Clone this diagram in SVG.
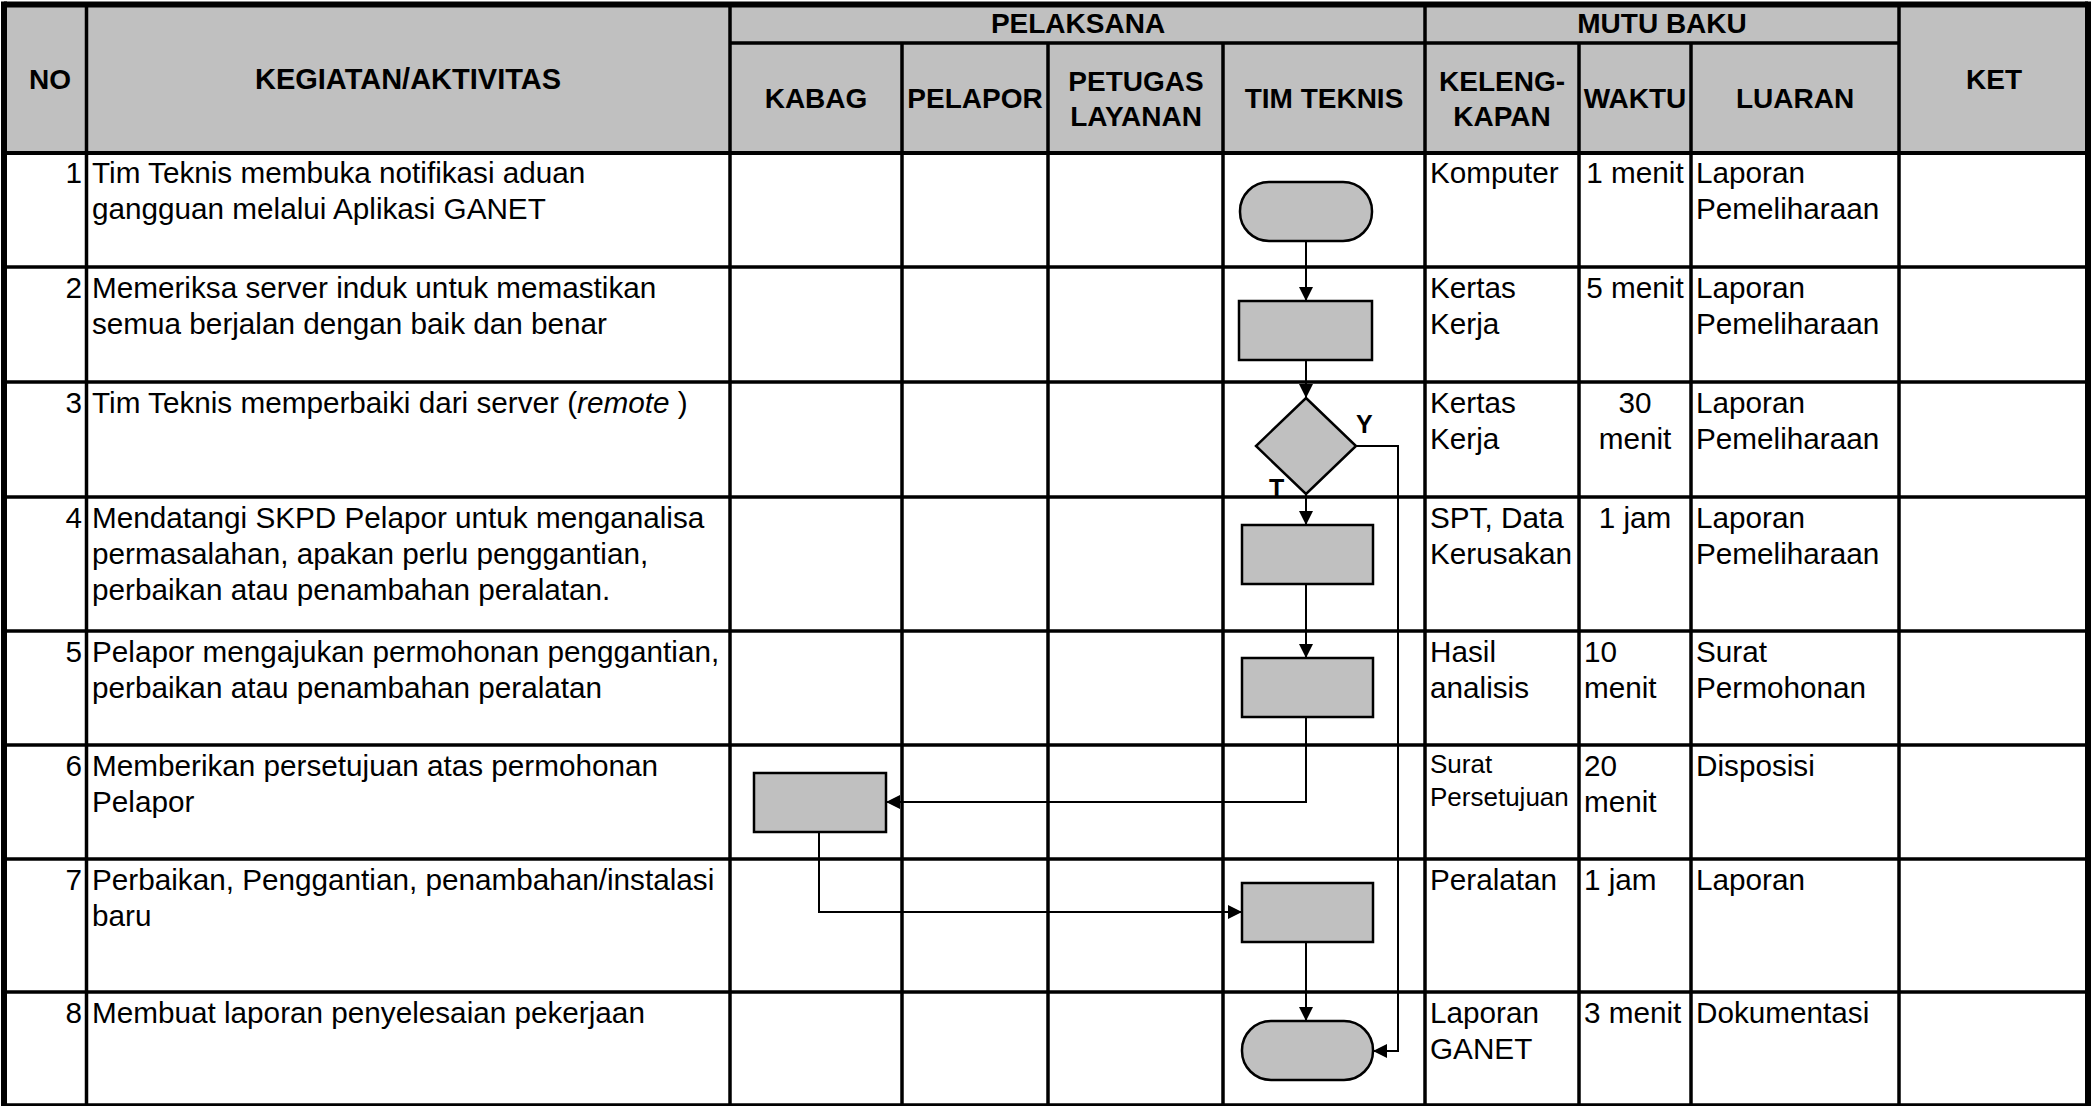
<svg xmlns="http://www.w3.org/2000/svg" width="2096" height="1106" viewBox="0 0 2096 1106">
<style>
.bg{fill:#ffffff}
.hd{fill:#c0c0c0}
.g{stroke:#000;stroke-width:3.5;fill:none}
.ob{stroke:#000;stroke-width:6;fill:none}
.h{font-family:"Liberation Sans",Arial,sans-serif;font-weight:bold;font-size:28px;fill:#000;text-anchor:middle}
.t{font-family:"Liberation Sans",Arial,sans-serif;font-size:29.7px;fill:#000}
.sm{font-size:26px}
.m{text-anchor:middle}
.e{text-anchor:end}
.lb{font-family:"Liberation Sans",Arial,sans-serif;font-weight:bold;font-size:25px;fill:#000}
.s{fill:#c0c0c0;stroke:#000;stroke-width:2.5}
.c{stroke:#000;stroke-width:2;fill:none;marker-end:url(#ah)}
</style>
<defs>
<marker id="ah" viewBox="0 0 10 10" refX="10" refY="5" markerWidth="15" markerHeight="14" markerUnits="userSpaceOnUse" orient="auto">
<path d="M0,0 L10,5 L0,10 z" fill="#000"/>
</marker>
</defs>
<rect class="bg" x="0" y="0" width="2096" height="1106"/>
<rect class="hd" x="4" y="4" width="2084" height="149"/>

<g id="grid">
<line class="g" x1="4" y1="153" x2="2088" y2="153" style="stroke-width:4"/>
<line class="g" x1="4" y1="267" x2="2088" y2="267"/>
<line class="g" x1="4" y1="382" x2="2088" y2="382"/>
<line class="g" x1="4" y1="497" x2="2088" y2="497"/>
<line class="g" x1="4" y1="631" x2="2088" y2="631"/>
<line class="g" x1="4" y1="745" x2="2088" y2="745"/>
<line class="g" x1="4" y1="859" x2="2088" y2="859"/>
<line class="g" x1="4" y1="992" x2="2088" y2="992"/>
<line class="g" x1="4" y1="1105" x2="2088" y2="1105"/>
<line class="g" x1="730" y1="43" x2="1899" y2="43"/>
<line class="g" x1="86.5" y1="4" x2="86.5" y2="1106"/>
<line class="g" x1="730" y1="4" x2="730" y2="1106"/>
<line class="g" x1="902" y1="43" x2="902" y2="1106"/>
<line class="g" x1="1048" y1="43" x2="1048" y2="1106"/>
<line class="g" x1="1223" y1="43" x2="1223" y2="1106"/>
<line class="g" x1="1425" y1="4" x2="1425" y2="1106"/>
<line class="g" x1="1579" y1="43" x2="1579" y2="1106"/>
<line class="g" x1="1691" y1="43" x2="1691" y2="1106"/>
<line class="g" x1="1899" y1="4" x2="1899" y2="1106"/>
<line class="ob" x1="4" y1="4.5" x2="2088" y2="4.5"/>
<line class="ob" x1="4" y1="1.5" x2="4" y2="1106"/>
<line class="ob" x1="2088" y1="1.5" x2="2088" y2="1106"/>
</g>

<g id="header">
<text class="h" x="50" y="89">NO</text>
<text class="h" x="408" y="89" style="font-size:29px">KEGIATAN/AKTIVITAS</text>
<text class="h" x="1078" y="33">PELAKSANA</text>
<text class="h" x="1662" y="33">MUTU BAKU</text>
<text class="h" x="1994" y="89">KET</text>
<text class="h" x="816" y="108">KABAG</text>
<text class="h" x="975" y="108">PELAPOR</text>
<text class="h" x="1136" y="91">PETUGAS</text>
<text class="h" x="1136" y="126">LAYANAN</text>
<text class="h" x="1324" y="108">TIM TEKNIS</text>
<text class="h" x="1502" y="91">KELENG-</text>
<text class="h" x="1502" y="126">KAPAN</text>
<text class="h" x="1635" y="108">WAKTU</text>
<text class="h" x="1795" y="108">LUARAN</text>
</g>

<g id="row1">
<text class="t e" x="82" y="183">1</text>
<text class="t" x="92" y="183">Tim Teknis membuka notifikasi aduan</text>
<text class="t" x="92" y="219">gangguan melalui Aplikasi GANET</text>
<text class="t" x="1430" y="183">Komputer</text>
<text class="t m" x="1635" y="183">1 menit</text>
<text class="t" x="1696" y="183">Laporan</text>
<text class="t" x="1696" y="219">Pemeliharaan</text>
</g>
<g id="row2">
<text class="t e" x="82" y="298">2</text>
<text class="t" x="92" y="298">Memeriksa server induk untuk memastikan</text>
<text class="t" x="92" y="334">semua berjalan dengan baik dan benar</text>
<text class="t" x="1430" y="298">Kertas</text>
<text class="t" x="1430" y="334">Kerja</text>
<text class="t m" x="1635" y="298">5 menit</text>
<text class="t" x="1696" y="298">Laporan</text>
<text class="t" x="1696" y="334">Pemeliharaan</text>
</g>
<g id="row3">
<text class="t e" x="82" y="413">3</text>
<text class="t" x="92" y="413">Tim Teknis memperbaiki dari server (<tspan font-style="italic">remote</tspan> )</text>
<text class="t" x="1430" y="413">Kertas</text>
<text class="t" x="1430" y="449">Kerja</text>
<text class="t m" x="1635" y="413">30</text>
<text class="t m" x="1635" y="449">menit</text>
<text class="t" x="1696" y="413">Laporan</text>
<text class="t" x="1696" y="449">Pemeliharaan</text>
</g>
<g id="row4">
<text class="t e" x="82" y="528">4</text>
<text class="t" x="92" y="528">Mendatangi SKPD Pelapor untuk menganalisa</text>
<text class="t" x="92" y="564">permasalahan, apakan perlu penggantian,</text>
<text class="t" x="92" y="600">perbaikan atau penambahan peralatan.</text>
<text class="t" x="1430" y="528">SPT, Data</text>
<text class="t" x="1430" y="564">Kerusakan</text>
<text class="t m" x="1635" y="528">1 jam</text>
<text class="t" x="1696" y="528">Laporan</text>
<text class="t" x="1696" y="564">Pemeliharaan</text>
</g>
<g id="row5">
<text class="t e" x="82" y="662">5</text>
<text class="t" x="92" y="662">Pelapor mengajukan permohonan penggantian,</text>
<text class="t" x="92" y="698">perbaikan atau penambahan peralatan</text>
<text class="t" x="1430" y="662">Hasil</text>
<text class="t" x="1430" y="698">analisis</text>
<text class="t" x="1584" y="662">10</text>
<text class="t" x="1584" y="698">menit</text>
<text class="t" x="1696" y="662">Surat</text>
<text class="t" x="1696" y="698">Permohonan</text>
</g>
<g id="row6">
<text class="t e" x="82" y="776">6</text>
<text class="t" x="92" y="776">Memberikan persetujuan atas permohonan</text>
<text class="t" x="92" y="812">Pelapor</text>
<text class="t sm" x="1430" y="773">Surat</text>
<text class="t sm" x="1430" y="806">Persetujuan</text>
<text class="t" x="1584" y="776">20</text>
<text class="t" x="1584" y="812">menit</text>
<text class="t" x="1696" y="776">Disposisi</text>
</g>
<g id="row7">
<text class="t e" x="82" y="890">7</text>
<text class="t" x="92" y="890">Perbaikan, Penggantian, penambahan/instalasi</text>
<text class="t" x="92" y="926">baru</text>
<text class="t" x="1430" y="890">Peralatan</text>
<text class="t" x="1584" y="890">1 jam</text>
<text class="t" x="1696" y="890">Laporan</text>
</g>
<g id="row8">
<text class="t e" x="82" y="1023">8</text>
<text class="t" x="92" y="1023">Membuat laporan penyelesaian pekerjaan</text>
<text class="t" x="1430" y="1023">Laporan</text>
<text class="t" x="1430" y="1059">GANET</text>
<text class="t" x="1584" y="1023">3 menit</text>
<text class="t" x="1696" y="1023">Dokumentasi</text>
</g>

<g id="connectors">
<path class="c" d="M1306,241 V301"/>
<path class="c" d="M1306,360 V398"/>
<path class="c" d="M1306,494 V525"/>
<path class="c" d="M1306,584 V658"/>
<path class="c" d="M1306,717 V802 H886"/>
<path class="c" d="M819,832 V912 H1242"/>
<path class="c" d="M1306,942 V1021"/>
<path class="c" d="M1356,446 H1398 V1051 H1373"/>
<text class="lb" x="1356" y="433">Y</text>
<text class="lb" x="1269" y="497">T</text>
</g>

<g id="n1"><rect class="s" x="1240" y="182" width="132" height="59" rx="29" ry="29"/></g>
<g id="n2"><rect class="s" x="1239" y="301" width="133" height="59"/></g>
<g id="n3"><path class="s" d="M1306,398 L1356,446 L1306,494 L1256,446 Z"/></g>
<g id="n4"><rect class="s" x="1242" y="525" width="131" height="59"/></g>
<g id="n5"><rect class="s" x="1242" y="658" width="131" height="59"/></g>
<g id="n6"><rect class="s" x="754" y="773" width="132" height="59"/></g>
<g id="n7"><rect class="s" x="1242" y="883" width="131" height="59"/></g>
<g id="n8"><rect class="s" x="1242" y="1021" width="131" height="59" rx="29" ry="29"/></g>
</svg>
